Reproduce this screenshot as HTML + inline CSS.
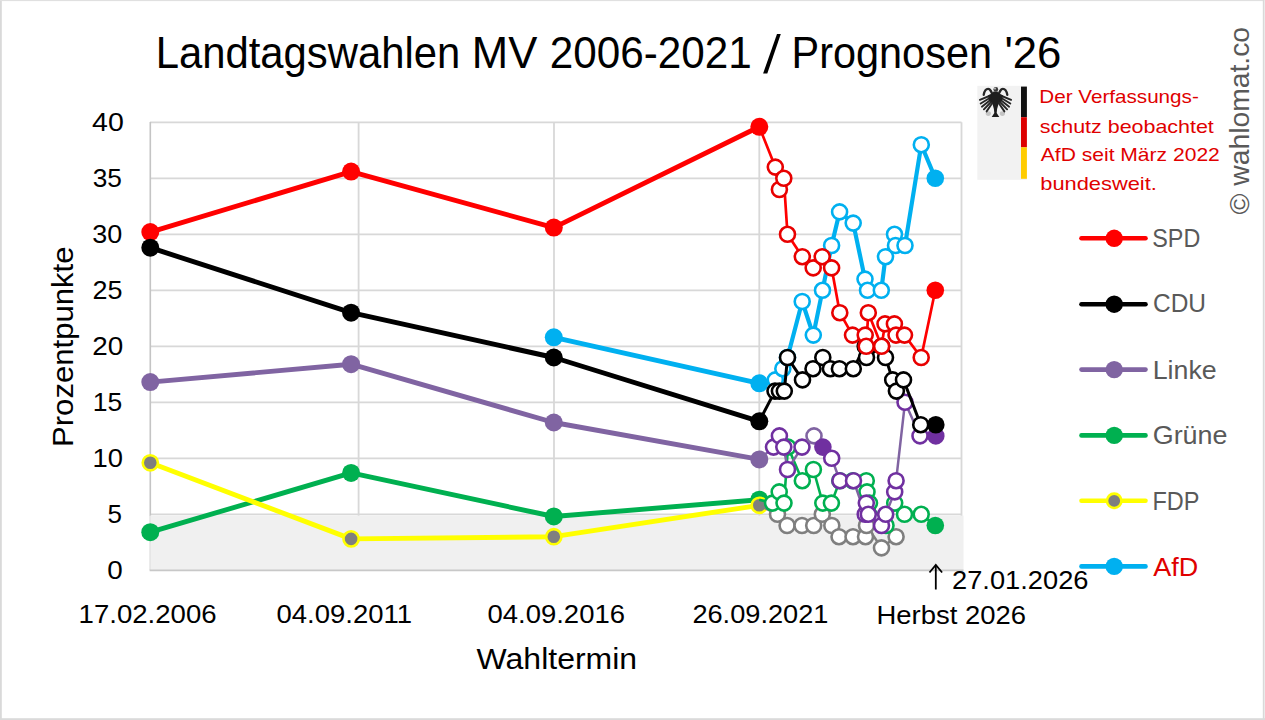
<!DOCTYPE html><html><head><meta charset="utf-8"><style>html,body{margin:0;padding:0;background:#fff;overflow:hidden}svg{display:block}text{font-family:"Liberation Sans",sans-serif}</style></head><body>
<svg width="1265" height="720" viewBox="0 0 1265 720">
<rect x="0" y="0" width="1265" height="720" fill="#fff"/>
<rect x="0" y="0" width="1.8" height="720" fill="#d9d9d9"/>
<rect x="0" y="0" width="1265" height="1.1" fill="#e0e0e0"/>
<rect x="1262.8" y="0" width="1.3" height="720" fill="#d9d9d9"/>
<rect x="1264.1" y="0" width="0.9" height="720" fill="#e8e8e8"/>
<rect x="0" y="718.2" width="1265" height="1.8" fill="#dadada"/>
<g stroke="#d8d8d8" stroke-width="1.8"><line x1="150" y1="514.3" x2="961.5" y2="514.3"/><line x1="150" y1="458.3" x2="961.5" y2="458.3"/><line x1="150" y1="402.3" x2="961.5" y2="402.3"/><line x1="150" y1="346.3" x2="961.5" y2="346.3"/><line x1="150" y1="290.3" x2="961.5" y2="290.3"/><line x1="150" y1="234.3" x2="961.5" y2="234.3"/><line x1="150" y1="178.3" x2="961.5" y2="178.3"/><line x1="150" y1="122.3" x2="961.5" y2="122.3"/><line x1="358.6" y1="122.3" x2="358.6" y2="570"/><line x1="554.0" y1="122.3" x2="554.0" y2="570"/><line x1="759.3" y1="122.3" x2="759.3" y2="570"/><line x1="961.5" y1="122.3" x2="961.5" y2="570"/></g>
<line x1="150.3" y1="122" x2="150.3" y2="516" stroke="#c4c4c4" stroke-width="1.6"/>
<rect x="149.6" y="515.6" width="813.9" height="54.6" fill="#f0f0f0"/>
<line x1="150" y1="515.6" x2="150" y2="570" stroke="#dcdcdc" stroke-width="1"/>
<line x1="149.6" y1="570.4" x2="963.5" y2="570.4" stroke="#c8c8c8" stroke-width="1.6"/>
<polyline points="150.3,232.1 351.1,171.6 553.8,227.6 759.3,126.8" fill="none" stroke="#ff0000" stroke-width="4.9" stroke-linejoin="round" stroke-linecap="round"/>
<circle cx="150.3" cy="232.1" r="9.0" fill="#ff0000"/>
<circle cx="351.1" cy="171.6" r="9.0" fill="#ff0000"/>
<circle cx="553.8" cy="227.6" r="9.0" fill="#ff0000"/>
<circle cx="759.3" cy="126.8" r="9.0" fill="#ff0000"/>
<polyline points="150.3,247.7 351.1,312.7 553.8,357.5 759.3,421.3" fill="none" stroke="#000000" stroke-width="4.9" stroke-linejoin="round" stroke-linecap="round"/>
<circle cx="150.3" cy="247.7" r="9.0" fill="#000000"/>
<circle cx="351.1" cy="312.7" r="9.0" fill="#000000"/>
<circle cx="553.8" cy="357.5" r="9.0" fill="#000000"/>
<circle cx="759.3" cy="421.3" r="9.0" fill="#000000"/>
<polyline points="150.3,382.1 351.1,364.2 553.8,422.5 759.3,459.4" fill="none" stroke="#8064a2" stroke-width="4.9" stroke-linejoin="round" stroke-linecap="round"/>
<circle cx="150.3" cy="382.1" r="9.0" fill="#8064a2"/>
<circle cx="351.1" cy="364.2" r="9.0" fill="#8064a2"/>
<circle cx="553.8" cy="422.5" r="9.0" fill="#8064a2"/>
<circle cx="759.3" cy="459.4" r="9.0" fill="#8064a2"/>
<polyline points="150.3,532.2 351.1,472.9 553.8,516.5 759.3,499.7" fill="none" stroke="#00b050" stroke-width="4.9" stroke-linejoin="round" stroke-linecap="round"/>
<circle cx="150.3" cy="532.2" r="9.0" fill="#00b050"/>
<circle cx="351.1" cy="472.9" r="9.0" fill="#00b050"/>
<circle cx="553.8" cy="516.5" r="9.0" fill="#00b050"/>
<circle cx="759.3" cy="499.7" r="9.0" fill="#00b050"/>
<polyline points="150.3,462.8 351.1,538.9 553.8,536.7 759.3,505.3" fill="none" stroke="#ffff00" stroke-width="4.9" stroke-linejoin="round" stroke-linecap="round"/>
<circle cx="150.3" cy="462.8" r="7.6" fill="#7f7f7f" stroke="#ffff00" stroke-width="2.6"/>
<circle cx="351.1" cy="538.9" r="7.6" fill="#7f7f7f" stroke="#ffff00" stroke-width="2.6"/>
<circle cx="553.8" cy="536.7" r="7.6" fill="#7f7f7f" stroke="#ffff00" stroke-width="2.6"/>
<circle cx="759.3" cy="505.3" r="7.6" fill="#7f7f7f" stroke="#ffff00" stroke-width="2.6"/>
<polyline points="553.8,337.3 759.3,383.3" fill="none" stroke="#00b0f0" stroke-width="4.9" stroke-linejoin="round" stroke-linecap="round"/>
<circle cx="553.8" cy="337.3" r="9.0" fill="#00b0f0"/>
<circle cx="759.3" cy="383.3" r="9.0" fill="#00b0f0"/>
<polyline points="759.3,505.3 777.5,514.3 787.1,525.5 802.0,525.5 813.7,525.5 822.3,514.3 831.8,525.5 839.0,536.7 853.0,536.7 865.5,536.7 866.5,525.5 881.5,547.9 896.1,536.7" fill="none" stroke="#7f7f7f" stroke-width="2.5" stroke-linejoin="round"/>
<circle cx="777.5" cy="514.3" r="7.5" fill="#fff" stroke="#7f7f7f" stroke-width="2.6"/>
<circle cx="787.1" cy="525.5" r="7.5" fill="#fff" stroke="#7f7f7f" stroke-width="2.6"/>
<circle cx="802.0" cy="525.5" r="7.5" fill="#fff" stroke="#7f7f7f" stroke-width="2.6"/>
<circle cx="813.7" cy="525.5" r="7.5" fill="#fff" stroke="#7f7f7f" stroke-width="2.6"/>
<circle cx="822.3" cy="514.3" r="7.5" fill="#fff" stroke="#7f7f7f" stroke-width="2.6"/>
<circle cx="831.8" cy="525.5" r="7.5" fill="#fff" stroke="#7f7f7f" stroke-width="2.6"/>
<circle cx="839.0" cy="536.7" r="7.5" fill="#fff" stroke="#7f7f7f" stroke-width="2.6"/>
<circle cx="853.0" cy="536.7" r="7.5" fill="#fff" stroke="#7f7f7f" stroke-width="2.6"/>
<circle cx="865.5" cy="536.7" r="7.5" fill="#fff" stroke="#7f7f7f" stroke-width="2.6"/>
<circle cx="866.5" cy="525.5" r="7.5" fill="#fff" stroke="#7f7f7f" stroke-width="2.6"/>
<circle cx="881.5" cy="547.9" r="7.5" fill="#fff" stroke="#7f7f7f" stroke-width="2.6"/>
<circle cx="896.1" cy="536.7" r="7.5" fill="#fff" stroke="#7f7f7f" stroke-width="2.6"/>
<polyline points="759.3,499.7 772.5,503.1 779.2,491.9 784.0,503.1 788.0,447.1 802.3,480.7 813.4,469.5 822.8,503.1 831.4,503.1 839.8,480.7 852.8,480.7 866.3,480.7 867.0,491.9 869.5,503.1 886.0,525.5 894.7,503.1 904.5,514.3 921.2,514.3 935.3,525.5" fill="none" stroke="#00b050" stroke-width="2.6" stroke-linejoin="round"/>
<circle cx="772.5" cy="503.1" r="7.5" fill="#fff" stroke="#00b050" stroke-width="2.6"/>
<circle cx="779.2" cy="491.9" r="7.5" fill="#fff" stroke="#00b050" stroke-width="2.6"/>
<circle cx="784.0" cy="503.1" r="7.5" fill="#fff" stroke="#00b050" stroke-width="2.6"/>
<circle cx="788.0" cy="447.1" r="7.5" fill="#fff" stroke="#00b050" stroke-width="2.6"/>
<circle cx="802.3" cy="480.7" r="7.5" fill="#fff" stroke="#00b050" stroke-width="2.6"/>
<circle cx="813.4" cy="469.5" r="7.5" fill="#fff" stroke="#00b050" stroke-width="2.6"/>
<circle cx="822.8" cy="503.1" r="7.5" fill="#fff" stroke="#00b050" stroke-width="2.6"/>
<circle cx="831.4" cy="503.1" r="7.5" fill="#fff" stroke="#00b050" stroke-width="2.6"/>
<circle cx="839.8" cy="480.7" r="7.5" fill="#fff" stroke="#00b050" stroke-width="2.6"/>
<circle cx="852.8" cy="480.7" r="7.5" fill="#fff" stroke="#00b050" stroke-width="2.6"/>
<circle cx="866.3" cy="480.7" r="7.5" fill="#fff" stroke="#00b050" stroke-width="2.6"/>
<circle cx="867.0" cy="491.9" r="7.5" fill="#fff" stroke="#00b050" stroke-width="2.6"/>
<circle cx="869.5" cy="503.1" r="7.5" fill="#fff" stroke="#00b050" stroke-width="2.6"/>
<circle cx="886.0" cy="525.5" r="7.5" fill="#fff" stroke="#00b050" stroke-width="2.6"/>
<circle cx="894.7" cy="503.1" r="7.5" fill="#fff" stroke="#00b050" stroke-width="2.6"/>
<circle cx="904.5" cy="514.3" r="7.5" fill="#fff" stroke="#00b050" stroke-width="2.6"/>
<circle cx="921.2" cy="514.3" r="7.5" fill="#fff" stroke="#00b050" stroke-width="2.6"/>
<polyline points="759.3,459.4 773.5,447.1 779.4,435.9 783.8,447.1 787.5,469.5 802.0,447.1 814.0,435.9 822.9,447.1 831.7,458.3 839.9,480.7 853.5,480.7 865.2,514.3 866.3,503.1 868.3,514.3 881.5,525.5 885.7,514.3 894.7,491.9 896.1,480.7 905.0,402.3 920.0,435.9 935.3,435.9" fill="none" stroke="#8064a2" stroke-width="2.5" stroke-linejoin="round"/>
<circle cx="773.5" cy="447.1" r="7.5" fill="#fff" stroke="#7030a0" stroke-width="2.6"/>
<circle cx="779.4" cy="435.9" r="7.5" fill="#fff" stroke="#7030a0" stroke-width="2.6"/>
<circle cx="783.8" cy="447.1" r="7.5" fill="#fff" stroke="#7030a0" stroke-width="2.6"/>
<circle cx="787.5" cy="469.5" r="7.5" fill="#fff" stroke="#7030a0" stroke-width="2.6"/>
<circle cx="802.0" cy="447.1" r="7.5" fill="#fff" stroke="#7030a0" stroke-width="2.6"/>
<circle cx="814.0" cy="435.9" r="7.5" fill="#fff" stroke="#8064a2" stroke-width="2.6"/>
<circle cx="822.9" cy="447.1" r="8.8" fill="#7030a0"/>
<circle cx="831.7" cy="458.3" r="7.5" fill="#fff" stroke="#7030a0" stroke-width="2.6"/>
<circle cx="839.9" cy="480.7" r="7.5" fill="#fff" stroke="#7030a0" stroke-width="2.6"/>
<circle cx="853.5" cy="480.7" r="7.5" fill="#fff" stroke="#7030a0" stroke-width="2.6"/>
<circle cx="865.2" cy="514.3" r="7.5" fill="#fff" stroke="#7030a0" stroke-width="2.6"/>
<circle cx="866.3" cy="503.1" r="7.5" fill="#fff" stroke="#7030a0" stroke-width="2.6"/>
<circle cx="868.3" cy="514.3" r="7.5" fill="#fff" stroke="#7030a0" stroke-width="2.6"/>
<circle cx="881.5" cy="525.5" r="7.5" fill="#fff" stroke="#7030a0" stroke-width="2.6"/>
<circle cx="885.7" cy="514.3" r="7.5" fill="#fff" stroke="#7030a0" stroke-width="2.6"/>
<circle cx="894.7" cy="491.9" r="7.5" fill="#fff" stroke="#7030a0" stroke-width="2.6"/>
<circle cx="896.1" cy="480.7" r="7.5" fill="#fff" stroke="#7030a0" stroke-width="2.6"/>
<circle cx="905.0" cy="402.3" r="7.5" fill="#fff" stroke="#7030a0" stroke-width="2.6"/>
<circle cx="920.0" cy="435.9" r="7.5" fill="#fff" stroke="#7030a0" stroke-width="2.6"/>
<polyline points="759.3,383.3 775.3,379.9 782.8,368.7 787.5,357.5 802.2,301.5 813.3,335.1 822.5,290.3 831.6,245.5 839.6,211.9 853.2,223.1 865.0,279.1 867.5,290.3 881.3,290.3 885.5,256.7 894.5,234.3 895.5,245.5 905.0,245.5 921.3,144.7 935.3,178.3" fill="none" stroke="#00b0f0" stroke-width="4.2" stroke-linejoin="round"/>
<circle cx="775.3" cy="379.9" r="7.5" fill="#fff" stroke="#00b0f0" stroke-width="2.6"/>
<circle cx="782.8" cy="368.7" r="7.5" fill="#fff" stroke="#00b0f0" stroke-width="2.6"/>
<circle cx="787.5" cy="357.5" r="7.5" fill="#fff" stroke="#00b0f0" stroke-width="2.6"/>
<circle cx="802.2" cy="301.5" r="7.5" fill="#fff" stroke="#00b0f0" stroke-width="2.6"/>
<circle cx="813.3" cy="335.1" r="7.5" fill="#fff" stroke="#00b0f0" stroke-width="2.6"/>
<circle cx="822.5" cy="290.3" r="7.5" fill="#fff" stroke="#00b0f0" stroke-width="2.6"/>
<circle cx="831.6" cy="245.5" r="7.5" fill="#fff" stroke="#00b0f0" stroke-width="2.6"/>
<circle cx="839.6" cy="211.9" r="7.5" fill="#fff" stroke="#00b0f0" stroke-width="2.6"/>
<circle cx="853.2" cy="223.1" r="7.5" fill="#fff" stroke="#00b0f0" stroke-width="2.6"/>
<circle cx="865.0" cy="279.1" r="7.5" fill="#fff" stroke="#00b0f0" stroke-width="2.6"/>
<circle cx="867.5" cy="290.3" r="7.5" fill="#fff" stroke="#00b0f0" stroke-width="2.6"/>
<circle cx="881.3" cy="290.3" r="7.5" fill="#fff" stroke="#00b0f0" stroke-width="2.6"/>
<circle cx="885.5" cy="256.7" r="7.5" fill="#fff" stroke="#00b0f0" stroke-width="2.6"/>
<circle cx="894.5" cy="234.3" r="7.5" fill="#fff" stroke="#00b0f0" stroke-width="2.6"/>
<circle cx="895.5" cy="245.5" r="7.5" fill="#fff" stroke="#00b0f0" stroke-width="2.6"/>
<circle cx="905.0" cy="245.5" r="7.5" fill="#fff" stroke="#00b0f0" stroke-width="2.6"/>
<circle cx="921.3" cy="144.7" r="7.5" fill="#fff" stroke="#00b0f0" stroke-width="2.6"/>
<polyline points="759.3,421.3 775.0,391.1 779.4,391.1 784.3,391.1 787.5,357.5 802.5,379.9 813.0,368.7 822.8,357.5 830.4,368.7 839.4,368.7 853.3,368.7 865.2,346.3 866.5,357.5 881.6,346.3 885.5,357.5 892.7,379.9 896.4,391.1 903.5,379.9 920.7,424.7 935.3,424.7" fill="none" stroke="#000000" stroke-width="3" stroke-linejoin="round"/>
<circle cx="775.0" cy="391.1" r="7.5" fill="#fff" stroke="#000000" stroke-width="2.6"/>
<circle cx="779.4" cy="391.1" r="7.5" fill="#fff" stroke="#000000" stroke-width="2.6"/>
<circle cx="784.3" cy="391.1" r="7.5" fill="#fff" stroke="#000000" stroke-width="2.6"/>
<circle cx="787.5" cy="357.5" r="7.5" fill="#fff" stroke="#000000" stroke-width="2.6"/>
<circle cx="802.5" cy="379.9" r="7.5" fill="#fff" stroke="#000000" stroke-width="2.6"/>
<circle cx="813.0" cy="368.7" r="7.5" fill="#fff" stroke="#000000" stroke-width="2.6"/>
<circle cx="822.8" cy="357.5" r="7.5" fill="#fff" stroke="#000000" stroke-width="2.6"/>
<circle cx="830.4" cy="368.7" r="7.5" fill="#fff" stroke="#000000" stroke-width="2.6"/>
<circle cx="839.4" cy="368.7" r="7.5" fill="#fff" stroke="#000000" stroke-width="2.6"/>
<circle cx="853.3" cy="368.7" r="7.5" fill="#fff" stroke="#000000" stroke-width="2.6"/>
<circle cx="865.2" cy="346.3" r="7.5" fill="#fff" stroke="#000000" stroke-width="2.6"/>
<circle cx="866.5" cy="357.5" r="7.5" fill="#fff" stroke="#000000" stroke-width="2.6"/>
<circle cx="881.6" cy="346.3" r="7.5" fill="#fff" stroke="#000000" stroke-width="2.6"/>
<circle cx="885.5" cy="357.5" r="7.5" fill="#fff" stroke="#000000" stroke-width="2.6"/>
<circle cx="892.7" cy="379.9" r="7.5" fill="#fff" stroke="#000000" stroke-width="2.6"/>
<circle cx="896.4" cy="391.1" r="7.5" fill="#fff" stroke="#000000" stroke-width="2.6"/>
<circle cx="903.5" cy="379.9" r="7.5" fill="#fff" stroke="#000000" stroke-width="2.6"/>
<circle cx="920.7" cy="424.7" r="7.5" fill="#fff" stroke="#000000" stroke-width="2.6"/>
<polyline points="759.3,126.8 775.3,167.1 779.4,189.5 783.8,178.3 787.5,234.3 802.3,256.7 813.2,267.9 822.2,256.7 831.6,267.9 839.8,312.7 852.5,335.1 865.2,335.1 866.2,346.3 868.3,312.7 881.6,346.3 885.0,323.9 894.4,323.9 896.0,335.1 904.5,335.1 921.2,357.5 935.3,290.3" fill="none" stroke="#ff0000" stroke-width="2.7" stroke-linejoin="round"/>
<circle cx="775.3" cy="167.1" r="7.5" fill="#fff" stroke="#e80000" stroke-width="2.6"/>
<circle cx="779.4" cy="189.5" r="7.5" fill="#fff" stroke="#e80000" stroke-width="2.6"/>
<circle cx="783.8" cy="178.3" r="7.5" fill="#fff" stroke="#e80000" stroke-width="2.6"/>
<circle cx="787.5" cy="234.3" r="7.5" fill="#fff" stroke="#e80000" stroke-width="2.6"/>
<circle cx="802.3" cy="256.7" r="7.5" fill="#fff" stroke="#e80000" stroke-width="2.6"/>
<circle cx="813.2" cy="267.9" r="7.5" fill="#fff" stroke="#e80000" stroke-width="2.6"/>
<circle cx="822.2" cy="256.7" r="7.5" fill="#fff" stroke="#e80000" stroke-width="2.6"/>
<circle cx="831.6" cy="267.9" r="7.5" fill="#fff" stroke="#e80000" stroke-width="2.6"/>
<circle cx="839.8" cy="312.7" r="7.5" fill="#fff" stroke="#e80000" stroke-width="2.6"/>
<circle cx="852.5" cy="335.1" r="7.5" fill="#fff" stroke="#e80000" stroke-width="2.6"/>
<circle cx="865.2" cy="335.1" r="7.5" fill="#fff" stroke="#e80000" stroke-width="2.6"/>
<circle cx="866.2" cy="346.3" r="7.5" fill="#fff" stroke="#e80000" stroke-width="2.6"/>
<circle cx="868.3" cy="312.7" r="7.5" fill="#fff" stroke="#e80000" stroke-width="2.6"/>
<circle cx="881.6" cy="346.3" r="7.5" fill="#fff" stroke="#e80000" stroke-width="2.6"/>
<circle cx="885.0" cy="323.9" r="7.5" fill="#fff" stroke="#e80000" stroke-width="2.6"/>
<circle cx="894.4" cy="323.9" r="7.5" fill="#fff" stroke="#e80000" stroke-width="2.6"/>
<circle cx="896.0" cy="335.1" r="7.5" fill="#fff" stroke="#e80000" stroke-width="2.6"/>
<circle cx="904.5" cy="335.1" r="7.5" fill="#fff" stroke="#e80000" stroke-width="2.6"/>
<circle cx="921.2" cy="357.5" r="7.5" fill="#fff" stroke="#e80000" stroke-width="2.6"/>
<circle cx="935.3" cy="525.5" r="8.8" fill="#00b050"/>
<circle cx="935.8" cy="435.9" r="8.8" fill="#7030a0"/>
<circle cx="935.3" cy="178.3" r="8.8" fill="#00b0f0"/>
<circle cx="935.8" cy="424.7" r="8.8" fill="#000000"/>
<circle cx="935.3" cy="290.3" r="8.8" fill="#ff0000"/>
<text x="155.70" y="67.7" font-size="43.62" fill="#000" textLength="304.50" lengthAdjust="spacingAndGlyphs">Landtagswahlen</text>
<text x="471.80" y="67.7" font-size="43.62" fill="#000" textLength="65.50" lengthAdjust="spacingAndGlyphs">MV</text>
<text x="549.70" y="67.7" font-size="43.62" fill="#000" textLength="202.00" lengthAdjust="spacingAndGlyphs">2006-2021</text>
<text x="791.50" y="67.7" font-size="43.62" fill="#000" textLength="200.50" lengthAdjust="spacingAndGlyphs">Prognosen</text>
<text x="1004.40" y="67.7" font-size="43.62" fill="#000" textLength="57.00" lengthAdjust="spacingAndGlyphs">'26</text>
<text x="78.60" y="623.2" font-size="25.80" fill="#000" textLength="138.00" lengthAdjust="spacingAndGlyphs">17.02.2006</text>
<text x="276.50" y="623.2" font-size="25.80" fill="#000" textLength="135.50" lengthAdjust="spacingAndGlyphs">04.09.2011</text>
<text x="487.50" y="623.2" font-size="25.80" fill="#000" textLength="137.50" lengthAdjust="spacingAndGlyphs">04.09.2016</text>
<text x="692.40" y="623.2" font-size="25.80" fill="#000" textLength="136.00" lengthAdjust="spacingAndGlyphs">26.09.2021</text>
<text x="876.50" y="623.5" font-size="25.80" fill="#000" textLength="149.50" lengthAdjust="spacingAndGlyphs">Herbst 2026</text>
<text x="476.60" y="668.8" font-size="29.27" fill="#000" textLength="160.50" lengthAdjust="spacingAndGlyphs">Wahltermin</text>
<text x="952.00" y="589.0" font-size="25.80" fill="#000" textLength="136.50" lengthAdjust="spacingAndGlyphs">27.01.2026</text>
<text x="1152.30" y="246.7" font-size="25.90" fill="#595959" textLength="48.00" lengthAdjust="spacingAndGlyphs">SPD</text>
<text x="1153.00" y="312.4" font-size="25.90" fill="#595959" textLength="53.00" lengthAdjust="spacingAndGlyphs">CDU</text>
<text x="1152.70" y="378.9" font-size="25.90" fill="#595959" textLength="64.00" lengthAdjust="spacingAndGlyphs">Linke</text>
<text x="1152.75" y="443.75" font-size="25.90" fill="#595959" textLength="74.75" lengthAdjust="spacingAndGlyphs">Grüne</text>
<text x="1152.50" y="509.5" font-size="25.90" fill="#595959" textLength="47.00" lengthAdjust="spacingAndGlyphs">FDP</text>
<text x="1153.30" y="575.5" font-size="25.90" fill="#e00000" textLength="45.00" lengthAdjust="spacingAndGlyphs">AfD</text>
<text x="1039.30" y="103.3" font-size="18.84" fill="#e00000" textLength="159.50" lengthAdjust="spacingAndGlyphs">Der Verfassungs-</text>
<text x="1039.80" y="132.5" font-size="18.84" fill="#e00000" textLength="174.00" lengthAdjust="spacingAndGlyphs">schutz beobachtet</text>
<text x="1040.80" y="160.5" font-size="18.84" fill="#e00000" textLength="179.00" lengthAdjust="spacingAndGlyphs">AfD seit März 2022</text>
<text x="1040.30" y="189.5" font-size="18.84" fill="#e00000" textLength="116.50" lengthAdjust="spacingAndGlyphs">bundesweit.</text>
<text x="-3.00" y="0" font-size="29.71" fill="#000" transform="translate(73.3,444.0) rotate(-90)" textLength="200.50" lengthAdjust="spacingAndGlyphs">Prozentpunkte</text>
<text x="0.00" y="0" font-size="27.60" fill="#595959" transform="translate(1248.5,214.4) rotate(-90)" textLength="187.50" lengthAdjust="spacingAndGlyphs">© wahlomat.co</text>
<text x="92.10" y="131.4" font-size="26.30" fill="#000" textLength="31.75" lengthAdjust="spacingAndGlyphs">40</text>
<text x="92.75" y="187.4" font-size="26.30" fill="#000" textLength="29.25" lengthAdjust="spacingAndGlyphs">35</text>
<text x="92.30" y="243.4" font-size="26.30" fill="#000" textLength="30.00" lengthAdjust="spacingAndGlyphs">30</text>
<text x="92.60" y="299.4" font-size="26.30" fill="#000" textLength="30.00" lengthAdjust="spacingAndGlyphs">25</text>
<text x="92.30" y="355.4" font-size="26.30" fill="#000" textLength="31.00" lengthAdjust="spacingAndGlyphs">20</text>
<text x="92.70" y="411.4" font-size="26.30" fill="#000" textLength="29.50" lengthAdjust="spacingAndGlyphs">15</text>
<text x="92.50" y="467.4" font-size="26.30" fill="#000" textLength="30.50" lengthAdjust="spacingAndGlyphs">10</text>
<text x="107.60" y="523.4" font-size="26.30" fill="#000" textLength="14.50" lengthAdjust="spacingAndGlyphs">5</text>
<text x="107.30" y="579.4" font-size="26.30" fill="#000" textLength="15.50" lengthAdjust="spacingAndGlyphs">0</text>
<polygon points="763.1,73.6 767.3,73.6 780.8,34.1 777,34.1" fill="#000"/>
<line x1="935.8" y1="566" x2="935.8" y2="589.5" stroke="#000" stroke-width="1.8"/>
<polyline points="929.5,572.5 935.8,565 942.1,572.5" fill="none" stroke="#000" stroke-width="1.8"/>
<line x1="1081.5" y1="238.3" x2="1145.5" y2="238.3" stroke="#ff0000" stroke-width="4.6" stroke-linecap="round"/>
<circle cx="1114.2" cy="238.3" r="8.7" fill="#ff0000"/>
<line x1="1081.5" y1="304.2" x2="1145.5" y2="304.2" stroke="#000000" stroke-width="4.6" stroke-linecap="round"/>
<circle cx="1114.2" cy="304.2" r="8.7" fill="#000000"/>
<line x1="1081.5" y1="369.6" x2="1145.5" y2="369.6" stroke="#8064a2" stroke-width="4.6" stroke-linecap="round"/>
<circle cx="1114.2" cy="369.6" r="8.7" fill="#8064a2"/>
<line x1="1081.5" y1="435.4" x2="1145.5" y2="435.4" stroke="#00b050" stroke-width="4.6" stroke-linecap="round"/>
<circle cx="1114.2" cy="435.4" r="8.7" fill="#00b050"/>
<line x1="1081.5" y1="500.8" x2="1145.5" y2="500.8" stroke="#ffff00" stroke-width="4.6" stroke-linecap="round"/>
<circle cx="1114.2" cy="500.8" r="7.2" fill="#7f7f7f" stroke="#ffff00" stroke-width="2.6"/>
<line x1="1081.5" y1="566.4" x2="1145.5" y2="566.4" stroke="#00b0f0" stroke-width="4.6" stroke-linecap="round"/>
<circle cx="1114.2" cy="566.4" r="8.7" fill="#00b0f0"/>
<rect x="977.3" y="85.8" width="49.6" height="94" fill="#f2f2f2"/>
<rect x="1021" y="86.6" width="5.9" height="30.6" fill="#111"/>
<rect x="1021" y="117.2" width="5.9" height="30.1" fill="#dd0000"/>
<rect x="1021" y="147.3" width="5.9" height="31.5" fill="#ffcc00"/>
<g transform="translate(995.5,84)" stroke="#262626" stroke-linecap="round" fill="#1e1e1e"><ellipse cx="-7.2" cy="29.6" rx="2.6" ry="2.4" fill="#c4c4c4" stroke="none"/><ellipse cx="6.9" cy="29.6" rx="2.6" ry="2.4" fill="#c4c4c4" stroke="none"/><path d="M-2.2,12.5 C-4,8 -5,4.8 -7.4,4.8 C-9.8,4.8 -11.2,7.5 -11.8,10.8" fill="none" stroke-width="2.3"/><line x1="-5" y1="11.5" x2="-15.6" y2="15.8" stroke-width="1.9"/><line x1="-5" y1="13.5" x2="-14.8" y2="19.5" stroke-width="1.9"/><line x1="-4.5" y1="15.5" x2="-13.6" y2="22.7" stroke-width="1.9"/><line x1="-4" y1="17.5" x2="-11.6" y2="25.3" stroke-width="1.9"/><line x1="-3.5" y1="19.5" x2="-8.9" y2="27.4" stroke-width="1.9"/><path d="M-2.5,9 L-7.5,11.5 L-6.5,16.5 L-3,19.5 Z" stroke="none"/><path d="M2.2,12.5 C4,8 5,4.8 7.4,4.8 C9.8,4.8 11.2,7.5 11.8,10.8" fill="none" stroke-width="2.3"/><line x1="5" y1="11.5" x2="15.6" y2="15.8" stroke-width="1.9"/><line x1="5" y1="13.5" x2="14.8" y2="19.5" stroke-width="1.9"/><line x1="4.5" y1="15.5" x2="13.6" y2="22.7" stroke-width="1.9"/><line x1="4" y1="17.5" x2="11.6" y2="25.3" stroke-width="1.9"/><line x1="3.5" y1="19.5" x2="8.9" y2="27.4" stroke-width="1.9"/><path d="M2.5,9 L7.5,11.5 L6.5,16.5 L3,19.5 Z" stroke="none"/><path d="M-2,7.5 C-4,10 -4.6,14 -3.6,18 L-1.6,25 L-1.2,29 L-3.8,33 L3.8,33 L1.2,29 L1.6,25 L3.6,18 C4.6,14 4,10 2,7.5 Z" stroke="none"/><circle cx="0.3" cy="5.4" r="2.4" fill="#3a3a3a" stroke="none"/><circle cx="-0.5" cy="4.6" r="1.1" fill="#b0b0b0" stroke="none"/></g>
</svg></body></html>
